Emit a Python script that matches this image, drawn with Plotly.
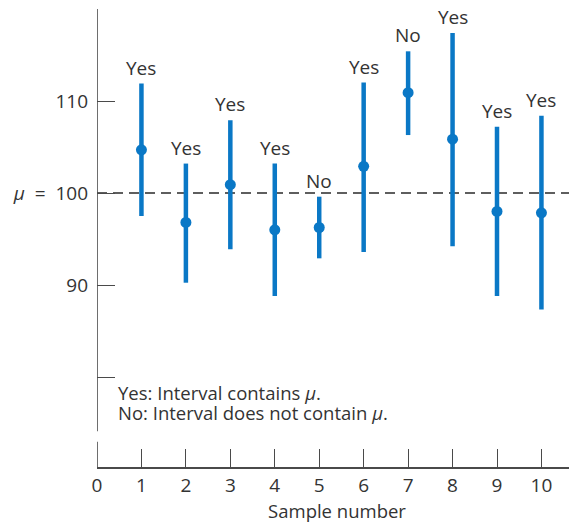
import plotly.graph_objects as go

samples = [1, 2, 3, 4, 5, 6, 7, 8, 9, 10]
centers = [104.7, 96.8, 100.9, 96.0, 96.25, 102.9, 110.9, 105.85, 98.0, 97.85]
lows = [97.5, 90.25, 93.9, 88.8, 92.9, 93.6, 106.3, 94.2, 88.8, 87.35]
highs = [111.9, 103.2, 107.9, 103.2, 99.6, 112.0, 115.4, 117.4, 107.2, 108.4]
labels = ["Yes", "Yes", "Yes", "Yes", "No", "Yes", "No", "Yes", "Yes", "Yes"]
mu = 100
y_tickvals = [80, 90, 100, 110]
y_ticktext = ["", "90", "<i>μ</i>\u00a0\u00a0=\u00a0\u00a0100", "110"]
x_tickvals = [0, 1, 2, 3, 4, 5, 6, 7, 8, 9, 10]
legend_lines = ["Yes: Interval contains <i>μ</i>.", "No: Interval does not contain <i>μ</i>."]

BLUE = "#0a78c6"
GRAY = "#4a4a4a"
TEXT = "#333333"
FONT = "Open Sans"

fig = go.Figure()
fig.add_trace(go.Scatter(
    x=samples, y=centers, mode="markers",
    marker=dict(color=BLUE, size=11),
    error_y=dict(type="data", symmetric=False,
                 array=[h - c for h, c in zip(highs, centers)],
                 arrayminus=[c - l for c, l in zip(centers, lows)],
                 color=BLUE, thickness=4.5, width=0),
    showlegend=False, hoverinfo="skip",
))

shapes = [
    dict(type="line", xref="x", yref="y", x0=0, x1=10.7, y0=mu, y1=mu,
         line=dict(color="#2a2a2a", width=1.4, dash="10px,6px"), layer="below"),
    dict(type="line", xref="x", yref="y", x0=0, x1=0, y0=74.1, y1=120,
         line=dict(color=GRAY, width=1.6)),
    dict(type="line", xref="x", yref="paper", x0=0, x1=0, y0=0, y1=0.055,
         line=dict(color=GRAY, width=1.6)),
]

annotations = []
for x, h, t in zip(samples, highs, labels):
    annotations.append(dict(x=x, y=h, text=t, showarrow=False, xref="x", yref="y",
                            xanchor="center", yanchor="bottom", yshift=1,
                            font=dict(family=FONT, size=19, color=TEXT)))
for i, line in enumerate(legend_lines):
    annotations.append(dict(
        x=0.42, y=78.35 - 2.17 * i, xref="x", yref="y", xanchor="left", yanchor="middle",
        align="left", showarrow=False, text=line,
        font=dict(family=FONT, size=18.5, color=TEXT)))

fig.update_layout(
    width=569, height=515,
    margin=dict(l=89, r=0, t=1, b=56),
    paper_bgcolor="white", plot_bgcolor="white",
    font=dict(family=FONT, size=19, color=TEXT),
    shapes=shapes, annotations=annotations,
    xaxis=dict(range=[0, 10.8], tickvals=x_tickvals, ticks="inside", ticklen=18,
               tickwidth=1.2, tickcolor=GRAY, showline=True, linecolor=GRAY,
               linewidth=1.6, showgrid=False, zeroline=False,
               tickfont=dict(family=FONT, size=19, color=TEXT),
               title=dict(text="Sample number", font=dict(family=FONT, size=18.5, color=TEXT),
                          standoff=12)),
    yaxis=dict(range=[70.22, 120], tickvals=y_tickvals, ticktext=y_ticktext,
               ticks="inside", ticklen=18, tickwidth=1.2, tickcolor=GRAY,
               showline=False, showgrid=False, zeroline=False,
               tickfont=dict(family=FONT, size=19, color=TEXT),
               ticklabelstandoff=8),
)

fig.write_html("out.html")
